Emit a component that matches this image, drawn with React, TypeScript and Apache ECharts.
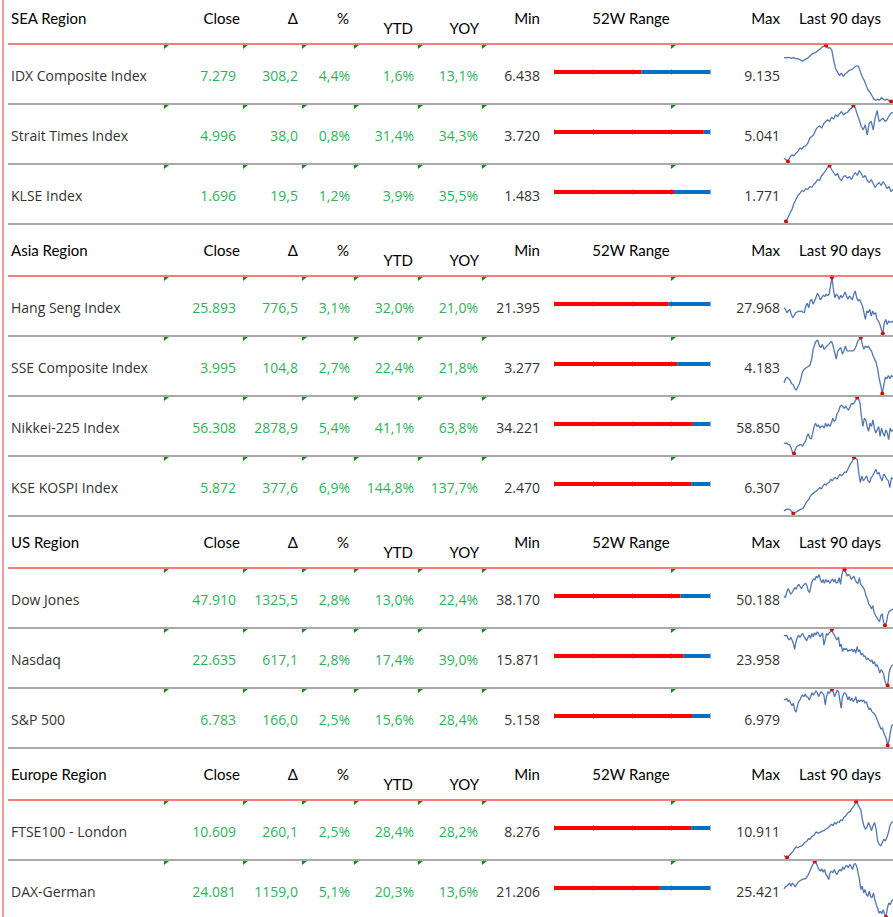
import React, { useEffect, useRef } from 'react';
import * as echarts from 'echarts';

const W = 893;
const H = 917;

const SECTIONS = ['SEA Region', 'Asia Region', 'US Region', 'Europe Region'];
const SECTION_SIZES = [3, 4, 3, 2];
const NAMES = [
  'IDX Composite Index', 'Strait Times Index', 'KLSE Index',
  'Hang Seng Index', 'SSE Composite Index', 'Nikkei-225 Index', 'KSE KOSPI Index',
  'Dow Jones', 'Nasdaq', 'S&P 500',
  'FTSE100 - London', 'DAX-German',
];
const CLOSE = [7279, 4996, 1696, 25893, 3995, 56308, 5872, 47910, 22635, 6783, 10609, 24081];
const DELTA = [308.2, 38.0, 19.5, 776.5, 104.8, 2878.9, 377.6, 1325.5, 617.1, 166.0, 260.1, 1159.0];
const PCT = [4.4, 0.8, 1.2, 3.1, 2.7, 5.4, 6.9, 2.8, 2.8, 2.5, 2.5, 5.1];
const YTD = [1.6, 31.4, 3.9, 32.0, 22.4, 41.1, 144.8, 13.0, 17.4, 15.6, 28.4, 20.3];
const YOY = [13.1, 34.3, 35.5, 21.0, 21.8, 63.8, 137.7, 22.4, 39.0, 28.4, 28.2, 13.6];
const MIN52 = [6438, 3720, 1483, 21395, 3277, 34221, 2470, 38170, 15871, 5158, 8276, 21206];
const MAX52 = [9135, 5041, 1771, 27968, 4183, 58850, 6307, 50188, 23958, 6979, 10911, 25421];
// position of the close inside the 52-week range
const RANGE_POS = [0.56, 0.96, 0.77, 0.735, 0.79, 0.89, 0.88, 0.81, 0.83, 0.885, 0.88, 0.68];

const HEADERS = ['Close', 'Δ', '%', 'YTD', 'YOY', 'Min', '52W Range', 'Max', 'Last 90 days'];

// last 90 days sparklines (relative levels)
const SPARK_IDX = [138, 137, 139, 138, 136, 138, 135, 135, 133, 130, 128, 133, 135, 140, 145, 150, 152, 155, 160, 164, 170, 172, 174, 166, 168, 160, 130, 105, 95, 85, 92, 82, 90, 94, 100, 102, 105, 110, 114, 112, 95, 80, 70, 55, 42, 35, 25, 15, 12, 14, 12, 20, 14, 12, 15, 10, 8, 8];
const SPARK_STI = [45, 40, 35, 48, 55, 52, 60, 65, 75, 72, 80, 82, 90, 105, 110, 115, 130, 138, 142, 135, 148, 155, 160, 155, 168, 162, 175, 170, 178, 185, 175, 180, 182, 190, 195, 203, 195, 175, 160, 140, 130, 145, 115, 150, 155, 130, 165, 188, 155, 160, 165, 155, 160, 172, 180, 182];
const SPARK_KLSE = [4, 3, 7, 11, 15, 21, 25, 29, 31, 34, 33, 36, 35, 38, 37, 40, 42, 45, 44, 49, 51, 54, 57, 59, 55, 52, 49, 51, 46, 44, 48, 49, 46, 48, 45, 49, 52, 49, 54, 51, 47, 49, 44, 42, 45, 41, 37, 40, 42, 39, 43, 40, 36, 38, 33, 35];
const SPARK_HSI = [85, 80, 70, 75, 80, 65, 55, 62, 70, 72, 75, 73, 75, 72, 70, 90, 98, 85, 105, 110, 95, 105, 115, 128, 120, 108, 115, 122, 118, 125, 120, 125, 150, 175, 140, 115, 125, 120, 110, 122, 115, 122, 132, 120, 110, 120, 115, 108, 125, 135, 115, 105, 110, 100, 90, 70, 50, 75, 70, 80, 60, 75, 65, 70, 50, 45, 35, 20, 8, 40, 50, 35, 45, 42, 42, 45];
const SPARK_SSE = [38, 50, 55, 50, 45, 35, 32, 20, 15, 25, 35, 50, 70, 78, 82, 85, 88, 92, 110, 140, 155, 165, 168, 150, 145, 155, 140, 145, 150, 155, 160, 165, 150, 130, 110, 135, 140, 145, 125, 135, 150, 135, 135, 135, 135, 135, 140, 150, 165, 170, 176, 155, 140, 150, 145, 150, 140, 135, 120, 110, 100, 80, 50, 30, 5, 30, 55, 50, 60, 50, 60, 55];
const SPARK_N225 = [40, 38, 40, 35, 35, 25, 10, 8, 22, 30, 32, 35, 35, 30, 40, 45, 60, 68, 55, 52, 70, 90, 100, 90, 95, 85, 90, 92, 85, 100, 90, 98, 90, 100, 115, 105, 110, 130, 135, 150, 155, 150, 145, 152, 145, 140, 150, 160, 158, 162, 170, 178, 175, 160, 120, 90, 115, 110, 90, 75, 100, 90, 110, 85, 70, 80, 90, 60, 85, 70, 60, 80, 70, 50, 85, 75, 80];
const SPARK_KOSPI = [15, 18, 20, 20, 18, 12, 7, 10, 12, 15, 18, 20, 22, 28, 38, 45, 50, 60, 65, 68, 72, 75, 80, 85, 80, 90, 95, 92, 98, 100, 110, 105, 112, 115, 110, 118, 125, 120, 125, 132, 130, 140, 150, 158, 165, 175, 172, 170, 130, 100, 120, 105, 112, 120, 105, 100, 115, 120, 130, 140, 125, 130, 115, 105, 125, 120, 110, 105, 85, 115, 110];
const SPARK_DOW = [100, 95, 110, 122, 115, 105, 110, 118, 125, 120, 130, 135, 128, 122, 130, 135, 138, 132, 115, 110, 130, 145, 152, 148, 160, 155, 165, 150, 140, 150, 138, 150, 142, 148, 138, 145, 152, 142, 150, 138, 142, 155, 135, 165, 178, 180, 170, 160, 165, 160, 150, 155, 160, 148, 140, 138, 155, 135, 130, 125, 115, 100, 90, 75, 70, 60, 70, 50, 40, 35, 27, 22, 40, 45, 20, 10, 18, 40, 52, 55, 58, 60];
const SPARK_NDQ = [165, 162, 165, 155, 150, 158, 150, 140, 122, 145, 158, 165, 158, 165, 170, 162, 155, 148, 158, 165, 155, 170, 160, 172, 165, 175, 170, 160, 165, 172, 135, 150, 170, 165, 172, 175, 182, 170, 165, 155, 150, 160, 130, 138, 115, 125, 120, 125, 115, 120, 118, 122, 115, 122, 110, 130, 115, 120, 105, 110, 100, 102, 90, 95, 90, 85, 90, 78, 85, 70, 75, 65, 50, 60, 55, 45, 25, 15, 12, 50, 65, 72, 75];
const SPARK_SPX = [152, 150, 155, 145, 150, 140, 132, 140, 120, 112, 130, 145, 150, 160, 165, 160, 168, 160, 158, 150, 160, 172, 165, 170, 178, 172, 160, 170, 175, 170, 165, 135, 160, 175, 170, 177, 182, 175, 160, 170, 180, 175, 150, 125, 160, 170, 172, 165, 150, 160, 148, 155, 145, 150, 160, 140, 150, 145, 150, 145, 150, 140, 145, 130, 120, 125, 115, 110, 108, 100, 90, 80, 70, 60, 65, 50, 40, 30, 10, 25, 50, 70, 75];
const SPARK_FTSE = [12, 8, 6, 10, 15, 20, 25, 32, 38, 35, 38, 40, 42, 48, 52, 55, 62, 60, 68, 70, 75, 82, 78, 80, 82, 85, 85, 90, 92, 95, 100, 105, 100, 110, 105, 112, 110, 118, 115, 125, 128, 135, 140, 142, 150, 155, 162, 172, 165, 155, 148, 120, 100, 90, 95, 110, 100, 85, 100, 110, 90, 55, 45, 40, 50, 60, 55, 65, 80, 100, 110, 112];
const SPARK_DAX = [102, 108, 110, 115, 120, 110, 120, 115, 108, 115, 122, 125, 128, 130, 132, 132, 135, 142, 150, 160, 170, 178, 184, 180, 170, 160, 155, 162, 152, 160, 145, 140, 130, 150, 155, 150, 160, 150, 145, 155, 160, 155, 168, 160, 170, 172, 165, 175, 170, 160, 175, 178, 170, 150, 130, 100, 110, 90, 100, 85, 80, 95, 80, 75, 90, 70, 55, 45, 30, 35, 28, 40, 25, 18, 45, 60, 55, 65, 70];
const SPARKS = [SPARK_IDX, SPARK_STI, SPARK_KLSE, SPARK_HSI, SPARK_SSE, SPARK_N225, SPARK_KOSPI, SPARK_DOW, SPARK_NDQ, SPARK_SPX, SPARK_FTSE, SPARK_DAX];

const fmtInt = (n: number) => String(Math.round(n)).replace(/\B(?=(\d{3})+(?!\d))/g, '.');
const fmt1 = (n: number) => n.toFixed(1).replace('.', ',');

const HEAD_FONT = '15px Lato, "Noto Sans", sans-serif';
const BODY_FONT = '14px "Open Sans", "Noto Sans", sans-serif';
const GREEN = '#2eb35c';
const DARK = '#333333';
const TRI_X = [164, 243, 302, 354, 418, 482, 671];

function txt(x: number, y: number, text: string, font: string, fill: string, align: string) {
  return {
    type: 'text', x, y, silent: true, z: 5,
    style: { text, font, fill, textAlign: align, textVerticalAlign: 'middle' },
  };
}
function hline(y: number, color: string, width: number) {
  return {
    type: 'line', silent: true, z: 6,
    shape: { x1: 8, y1: y, x2: W, y2: y },
    style: { stroke: color, lineWidth: width },
  };
}

function buildOption() {
  const graphic: any[] = [];
  const grid: any[] = [];
  const xAxis: any[] = [];
  const yAxis: any[] = [];
  const series: any[] = [];

  graphic.push({
    type: 'line', silent: true, z: 6,
    shape: { x1: 3, y1: 0, x2: 3, y2: H },
    style: { stroke: '#f39a9a', lineWidth: 2 },
  });

  let y = -8;
  let idx = 0;
  SECTIONS.forEach((sec, s) => {
    const lineY = y + 52;
    const hy = lineY - 26;
    graphic.push(txt(11, hy, sec, HEAD_FONT, '#000', 'left'));
    graphic.push(txt(240, hy, HEADERS[0], HEAD_FONT, '#000', 'right'));
    graphic.push(txt(298, hy, HEADERS[1], HEAD_FONT, '#000', 'right'));
    graphic.push(txt(349, hy, HEADERS[2], HEAD_FONT, '#000', 'right'));
    graphic.push(txt(413, lineY - 16, HEADERS[3], HEAD_FONT, '#000', 'right'));
    graphic.push(txt(479, lineY - 16, HEADERS[4], HEAD_FONT, '#000', 'right'));
    graphic.push(txt(540, hy, HEADERS[5], HEAD_FONT, '#000', 'right'));
    graphic.push(txt(631, hy, HEADERS[6], HEAD_FONT, '#000', 'center'));
    graphic.push(txt(780, hy, HEADERS[7], HEAD_FONT, '#000', 'right'));
    graphic.push(txt(840, hy, HEADERS[8], HEAD_FONT, '#000', 'center'));

    for (let k = 0; k < SECTION_SIZES[s]; k++) {
      const i = idx++;
      const rowTop = lineY + k * 60;
      const ty = rowTop + 31;
      graphic.push(txt(11, ty, NAMES[i], BODY_FONT, DARK, 'left'));
      graphic.push(txt(236, ty, fmtInt(CLOSE[i]), BODY_FONT, GREEN, 'right'));
      graphic.push(txt(298, ty, fmt1(DELTA[i]), BODY_FONT, GREEN, 'right'));
      graphic.push(txt(350, ty, fmt1(PCT[i]) + '%', BODY_FONT, GREEN, 'right'));
      graphic.push(txt(414, ty, fmt1(YTD[i]) + '%', BODY_FONT, GREEN, 'right'));
      graphic.push(txt(478, ty, fmt1(YOY[i]) + '%', BODY_FONT, GREEN, 'right'));
      graphic.push(txt(540, ty, fmtInt(MIN52[i]), BODY_FONT, DARK, 'right'));
      graphic.push(txt(780, ty, fmtInt(MAX52[i]), BODY_FONT, DARK, 'right'));
      TRI_X.forEach((tx) => {
        graphic.push({
          type: 'polygon', silent: true, z: 7,
          shape: { points: [[tx, rowTop + 1], [tx + 5, rowTop + 1], [tx, rowTop + 5]] },
          style: { fill: '#138a13' },
        });
      });
      graphic.push(hline(rowTop + 60, '#a9a9a9', 2));

      // 52W range bar
      const g1 = grid.length;
      grid.push({ left: 554, top: rowTop + 25, width: 156, height: 6 });
      xAxis.push({
        gridIndex: g1, type: 'value', min: 0, max: 1, interval: 0.25,
        axisLine: { show: false }, axisTick: { show: false }, axisLabel: { show: false },
        splitLine: { show: true, lineStyle: { color: '#b4b4b4', width: 1 } },
      });
      yAxis.push({ gridIndex: g1, type: 'category', data: [NAMES[i]], show: false });
      series.push({
        type: 'bar', xAxisIndex: g1, yAxisIndex: g1, stack: 'r' + i, barWidth: 4,
        data: [RANGE_POS[i]], itemStyle: { color: '#ff0000' }, silent: true,
      });
      series.push({
        type: 'bar', xAxisIndex: g1, yAxisIndex: g1, stack: 'r' + i, barWidth: 4,
        data: [1 - RANGE_POS[i]], itemStyle: { color: '#0070c0' }, silent: true,
      });

      // sparkline
      const g2 = grid.length;
      grid.push({ left: 784, top: rowTop + 1.5, width: 109, height: 56 });
      xAxis.push({ gridIndex: g2, type: 'category', boundaryGap: false, show: false, data: SPARKS[i].map((_, j) => j) });
      yAxis.push({ gridIndex: g2, type: 'value', show: false, min: 'dataMin', max: 'dataMax' });
      series.push({
        type: 'line', xAxisIndex: g2, yAxisIndex: g2, data: SPARKS[i],
        showSymbol: false, lineStyle: { color: '#5177b0', width: 1.3 }, silent: true,
        markPoint: {
          symbol: 'circle', symbolSize: 4, silent: true,
          label: { show: false },
          itemStyle: { color: '#e00000' },
          data: [{ type: 'max' }, { type: 'min' }],
        },
      });
    }
    graphic.push(hline(lineY, '#f55050', 1.5));
    y = lineY + SECTION_SIZES[s] * 60;
  });

  return { animation: false, backgroundColor: '#fff', grid, xAxis, yAxis, series, graphic };
}

export default function App() {
  const ref = useRef<HTMLDivElement>(null);
  useEffect(() => {
    const chart = echarts.init(ref.current!, null, { renderer: 'svg', width: W, height: H });
    chart.setOption(buildOption() as any);
    return () => chart.dispose();
  }, []);
  return <div ref={ref} style={{ position: 'fixed', left: 0, top: 0, width: W, height: H, background: '#fff' }} />;
}
